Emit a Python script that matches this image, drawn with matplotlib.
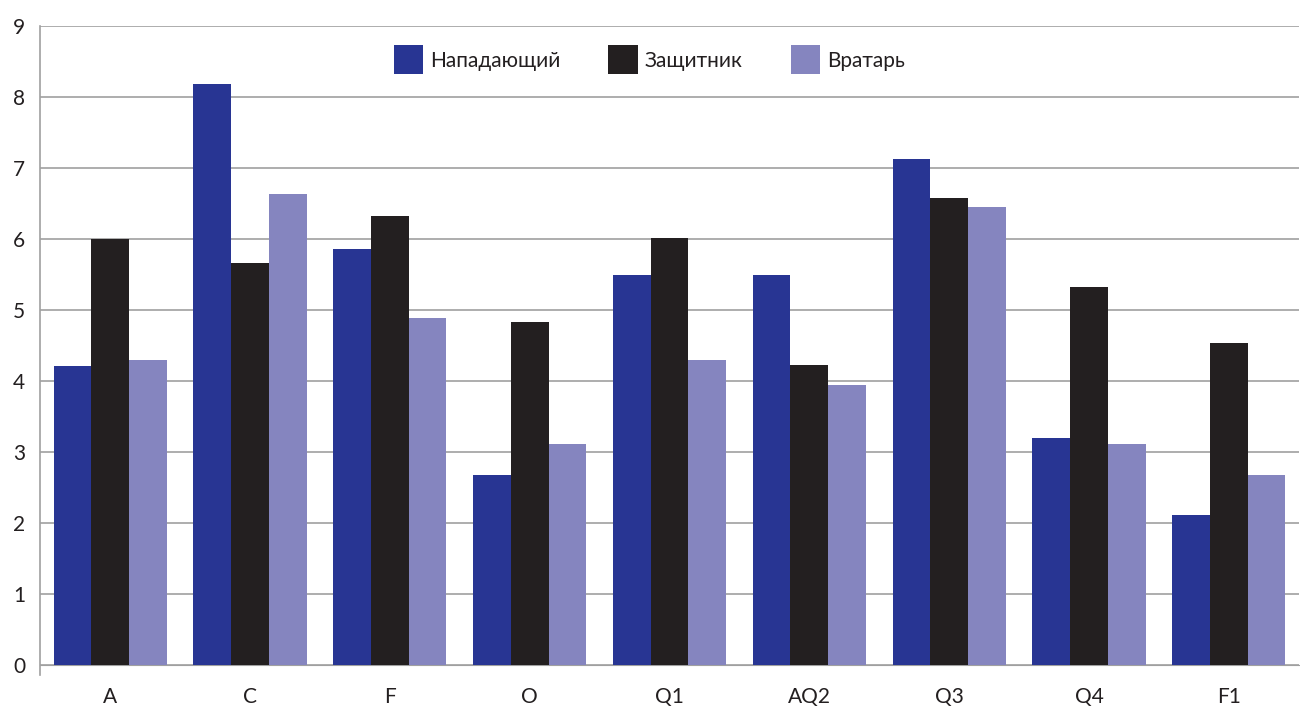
import matplotlib
matplotlib.use("Agg")
import matplotlib.pyplot as plt
import numpy as np

plt.rcParams['font.family'] = ['Lato', 'DejaVu Sans']

categories = ["A", "C", "F", "O", "Q1", "AQ2", "Q3", "Q4", "F1"]
forward = [4.21, 8.18, 5.86, 2.68, 5.49, 5.49, 7.13, 3.20, 2.11]
defender = [6.00, 5.66, 6.32, 4.83, 6.01, 4.23, 6.58, 5.32, 4.54]
goalie = [4.30, 6.63, 4.89, 3.11, 4.30, 3.94, 6.45, 3.11, 2.68]
series_names = ["Нападающий", "Защитник", "Вратарь"]
colors = ["#283593", "#231f20", "#8585bf"]

fig = plt.figure(figsize=(13, 7.09), dpi=100)
ax = fig.add_axes([0.031, 0.062, 0.968, 0.9013])

x = np.arange(len(categories))
w = 0.27
for i, (vals, name, c) in enumerate(zip([forward, defender, goalie], series_names, colors)):
    ax.bar(x + (i - 1) * w, vals, width=w, color=c, label=name, zorder=3)

ax.set_xlim(-0.5, len(categories) - 0.5)
ax.set_ylim(0, 9)
ax.set_yticks(range(10))
ax.set_xticks(x)
ax.set_xticklabels(categories)
ax.yaxis.grid(True, color="#a0a0a0", linewidth=1.2, zorder=0)
ax.tick_params(axis="both", length=0, labelsize=15, labelcolor="#231f20")
ax.tick_params(axis="x", pad=16)
ax.tick_params(axis="y", pad=11)

for s in ["top", "right"]:
    ax.spines[s].set_visible(False)
ax.spines["bottom"].set_color("#a0a0a0")
ax.spines["left"].set_visible(False)
ax.plot([0, 0], [-0.016, 1], transform=ax.transAxes, color="#a0a0a0",
        linewidth=1.2, clip_on=False, zorder=4)

ax.legend(loc="center", bbox_to_anchor=(0.484, 0.947), ncol=3, frameon=False,
          fontsize=15, handlelength=1.4, handleheight=1.75,
          handletextpad=0.35, columnspacing=2.3, labelcolor="#231f20")

fig.savefig("out.png", dpi=100)
